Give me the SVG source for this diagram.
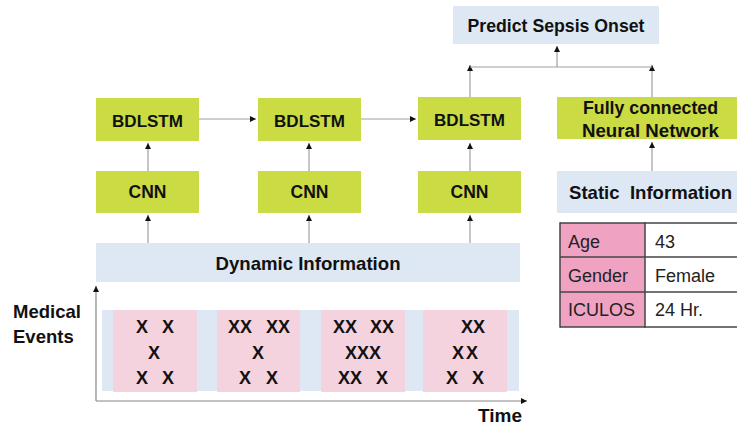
<svg xmlns="http://www.w3.org/2000/svg" width="737" height="425" viewBox="0 0 737 425">
  <style>
    .green { fill: #cadb43; }
    .blue { fill: #dde8f4; }
    .evt { fill: #f4d2de; }
    .lbl { font-family: "Liberation Sans", Arial, sans-serif; font-weight: bold; fill: #111; }
    .cell { font-family: "Liberation Sans", Arial, sans-serif; font-size: 18px; fill: #222; }
    .x { font-family: "Liberation Sans", Arial, sans-serif; font-weight: bold; font-size: 18px; fill: #111; text-anchor: middle; }
    .link { stroke: #a0a0a0; stroke-width: 1.2; fill: none; marker-end: url(#arrow); }
    .axis { stroke: #888; stroke-width: 1.2; fill: none; marker-end: url(#arrow); }
    .grid { stroke: #444; stroke-width: 1.5; }
  </style>
  <defs>
    <marker id="arrow" markerUnits="userSpaceOnUse" markerWidth="7" markerHeight="7" refX="6" refY="3" orient="auto">
      <path d="M0,0 L6,3 L0,6 z" fill="#111"/>
    </marker>
  </defs>

  <rect width="737" height="425" fill="#ffffff"/>

  <!-- connectors -->
  <g id="connectors">
    <line class="link" x1="148" y1="243" x2="148" y2="215"/>
    <line class="link" x1="309" y1="243" x2="309" y2="215"/>
    <line class="link" x1="470" y1="243" x2="470" y2="215"/>
    <line class="link" x1="148" y1="171" x2="148" y2="143"/>
    <line class="link" x1="309" y1="171" x2="309" y2="143"/>
    <line class="link" x1="470" y1="171" x2="470" y2="143"/>
    <line class="link" x1="199" y1="119" x2="256" y2="119"/>
    <line class="link" x1="361" y1="119" x2="416" y2="119"/>
    <line class="link" x1="652" y1="171" x2="652" y2="142"/>
    <line class="link" x1="470" y1="97" x2="470" y2="65"/>
    <line class="link" x1="652" y1="97" x2="652" y2="65"/>
    <line stroke="#a0a0a0" stroke-width="1.2" x1="470" y1="67" x2="652" y2="67"/>
    <line class="link" x1="557" y1="67" x2="557" y2="46"/>
  </g>

  <!-- output -->
  <g id="predict">
    <rect class="blue" x="453" y="6" width="206" height="38"/>
    <text class="lbl" x="556" y="31.5" font-size="18.5" text-anchor="middle" textLength="177" lengthAdjust="spacingAndGlyphs">Predict Sepsis Onset</text>
  </g>

  <!-- recurrent layer -->
  <g id="bdlstm1">
    <rect class="green" x="96" y="98" width="103" height="43"/>
    <text class="lbl" x="147.5" y="127" font-size="17" text-anchor="middle">BDLSTM</text>
  </g>
  <g id="bdlstm2">
    <rect class="green" x="258" y="98" width="103" height="43"/>
    <text class="lbl" x="309.5" y="127" font-size="17" text-anchor="middle">BDLSTM</text>
  </g>
  <g id="bdlstm3">
    <rect class="green" x="418" y="97" width="103" height="43"/>
    <text class="lbl" x="469.5" y="126" font-size="17" text-anchor="middle">BDLSTM</text>
  </g>
  <g id="fcnn">
    <rect class="green" x="557" y="97" width="180" height="42"/>
    <text class="lbl" x="650.5" y="114" font-size="18" text-anchor="middle" textLength="135" lengthAdjust="spacingAndGlyphs">Fully connected</text>
    <text class="lbl" x="650.5" y="136.5" font-size="18" text-anchor="middle" textLength="137" lengthAdjust="spacingAndGlyphs">Neural Network</text>
  </g>

  <!-- convolutional layer -->
  <g id="cnn1">
    <rect class="green" x="96" y="171" width="103" height="42"/>
    <text class="lbl" x="147.5" y="198" font-size="17.5" text-anchor="middle">CNN</text>
  </g>
  <g id="cnn2">
    <rect class="green" x="258" y="171" width="103" height="42"/>
    <text class="lbl" x="309.5" y="198" font-size="17.5" text-anchor="middle">CNN</text>
  </g>
  <g id="cnn3">
    <rect class="green" x="418" y="171" width="103" height="42"/>
    <text class="lbl" x="469.5" y="198" font-size="17.5" text-anchor="middle">CNN</text>
  </g>

  <!-- static branch -->
  <g id="static-info">
    <rect class="blue" x="557" y="171" width="180" height="42"/>
    <text class="lbl" x="569" y="199" font-size="18.5" textLength="163" lengthAdjust="spacingAndGlyphs" xml:space="preserve">Static  Information</text>
  </g>
  <g id="static-table">
    <rect x="560" y="223" width="85" height="104" fill="#f0a2c3"/>
    <rect x="645" y="223" width="92" height="104" fill="#ffffff"/>
    <line class="grid" x1="560" y1="223" x2="737" y2="223"/>
    <line class="grid" x1="560" y1="257" x2="737" y2="257"/>
    <line class="grid" x1="560" y1="292" x2="737" y2="292"/>
    <line class="grid" x1="560" y1="327" x2="737" y2="327"/>
    <line class="grid" x1="560" y1="222.25" x2="560" y2="327.75"/>
    <line class="grid" x1="645" y1="222.25" x2="645" y2="327.75"/>
    <text class="cell" x="568" y="248">Age</text>
    <text class="cell" x="655" y="248">43</text>
    <text class="cell" x="568" y="282">Gender</text>
    <text class="cell" x="655" y="282">Female</text>
    <text class="cell" x="568" y="316">ICULOS</text>
    <text class="cell" x="655" y="316">24 Hr.</text>
  </g>

  <!-- dynamic branch -->
  <g id="dynamic-info">
    <rect class="blue" x="96" y="243" width="424" height="39"/>
    <text class="lbl" x="308" y="270" font-size="18.5" text-anchor="middle" textLength="185" lengthAdjust="spacingAndGlyphs">Dynamic Information</text>
  </g>

  <!-- event timeline -->
  <g id="events">
    <rect x="102" y="310" width="417" height="81" fill="#dde8f4"/>
    <rect class="evt" x="113" y="310" width="84" height="82"/>
    <rect class="evt" x="217" y="310" width="83" height="82"/>
    <rect class="evt" x="321" y="310" width="84" height="82"/>
    <rect class="evt" x="423" y="310" width="84" height="82"/>

    <text class="x" x="142" y="333">X</text>
    <text class="x" x="168" y="333">X</text>
    <text class="x" x="154" y="359">X</text>
    <text class="x" x="142" y="384">X</text>
    <text class="x" x="168" y="384">X</text>

    <text class="x" x="240" y="333">XX</text>
    <text class="x" x="278" y="333">XX</text>
    <text class="x" x="258" y="359">X</text>
    <text class="x" x="245" y="384">X</text>
    <text class="x" x="272" y="384">X</text>

    <text class="x" x="345" y="333">XX</text>
    <text class="x" x="382" y="333">XX</text>
    <text class="x" x="363" y="359">XXX</text>
    <text class="x" x="350" y="384">XX</text>
    <text class="x" x="382" y="384">X</text>

    <text class="x" x="473" y="333">XX</text>
    <text class="x" x="458" y="359">X</text>
    <text class="x" x="472" y="359">X</text>
    <text class="x" x="452" y="384">X</text>
    <text class="x" x="478" y="384">X</text>
  </g>

  <!-- axes -->
  <g id="axes">
    <line class="axis" x1="96" y1="401" x2="96" y2="286"/>
    <line class="axis" x1="96" y1="401" x2="527" y2="401"/>
    <text class="lbl" x="13" y="318" font-size="18.5">Medical</text>
    <text class="lbl" x="13" y="343" font-size="18.5">Events</text>
    <text class="lbl" x="522" y="422" font-size="19" text-anchor="end">Time</text>
  </g>
</svg>
